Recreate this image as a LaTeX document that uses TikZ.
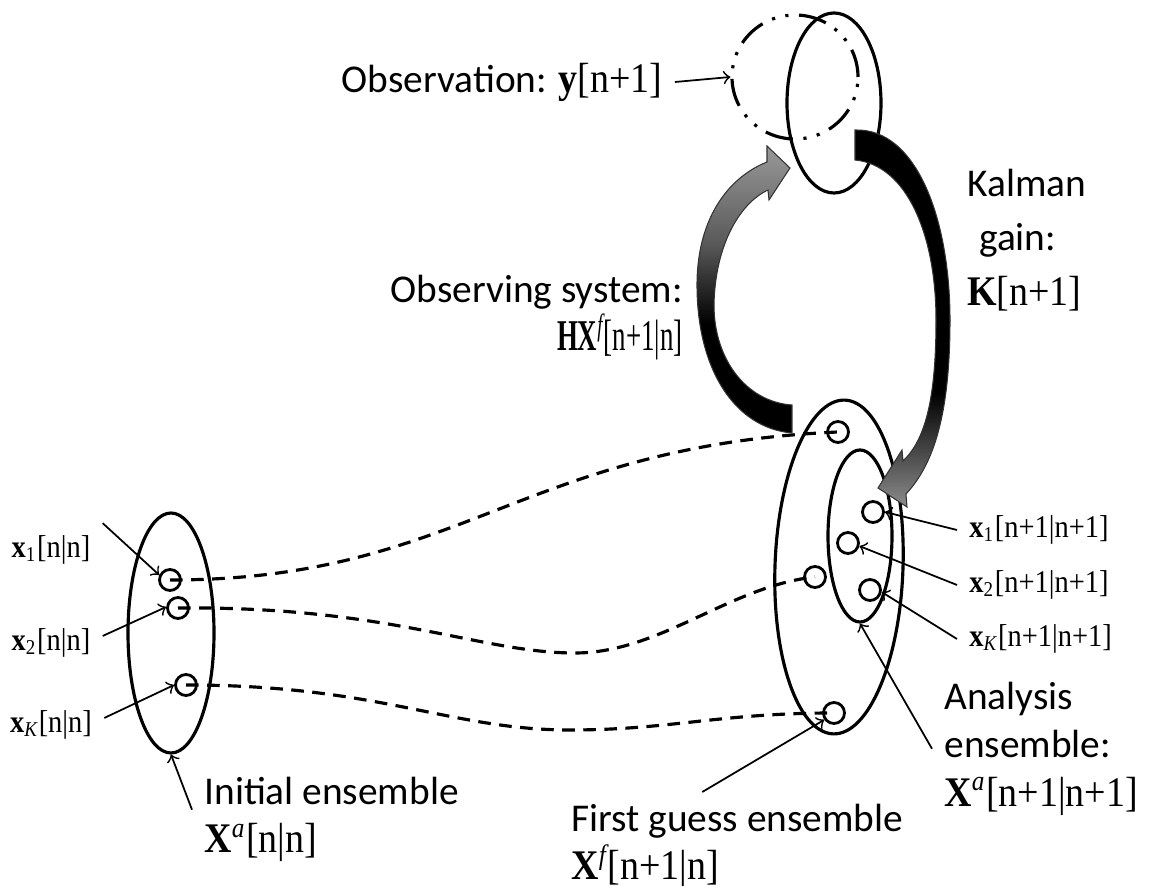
\documentclass[tikz,border=0pt]{standalone}
\usepackage{fontspec}
\usepackage{graphicx}
\setmainfont{Carlito}
\newfontfamily\tms[FakeStretch=0.9]{Liberation Serif}
\usetikzlibrary{shapes.geometric}

% fading fills for the two big curved arrows
\pgfdeclareverticalshading{obsfade}{100bp}{color(0bp)=(black); color(44bp)=(black); color(58bp)=(black!65); color(75bp)=(black!40); color(100bp)=(black!40)}
\pgfdeclareverticalshading{gainfade}{100bp}{color(0bp)=(black!40); color(25bp)=(black!45); color(40bp)=(black); color(100bp)=(black)}

\newcommand{\labbig}[1]{{\tms\fontsize{12}{13.7}\selectfont #1}}
\newcommand{\labnarrow}[1]{\scalebox{0.68}[1]{\tms\fontsize{12.5}{13.7}\selectfont #1}}
\newcommand{\labsmall}[1]{{\tms\fontsize{9}{11}\selectfont #1}}

\begin{document}
\begin{tikzpicture}[
    font=\fontsize{11.2}{13.7}\selectfont,
    ens/.style={ellipse, draw, line width=0.9pt, inner sep=0pt},
    mem/.style={circle, draw, line width=0.8pt, minimum size=0.21cm, inner sep=0pt},
    track/.style={line width=0.9pt, dash pattern=on 3.6pt off 2.4pt},
    pointer/.style={->, line width=0.5pt}
]
\useasboundingbox (0,0) rectangle (11.51,8.86);

% ensembles and observation
\node[ens, minimum width=1.26cm, minimum height=1.24cm,
      dash pattern=on 8pt off 3pt on 0.9pt off 3pt on 0.9pt off 3pt] (obsdd) at (7.95,8.09) {};
\node[ens, minimum width=0.94cm, minimum height=1.80cm] (obs) at (8.34,7.83) {};
\node[ens, minimum width=0.86cm, minimum height=2.40cm] (init) at (1.71,2.53) {};
\node[ens, minimum width=1.28cm, minimum height=3.34cm, rotate=-2] (guess) at (8.39,3.19) {};
\node[ens, minimum width=0.64cm, minimum height=1.72cm] (anal) at (8.60,3.50) {};

% members
\node[mem] (i1) at (1.70,3.06) {};
\node[mem] (i2) at (1.78,2.78) {};
\node[mem] (iK) at (1.86,2.01) {};
\node[mem] (g1) at (8.38,4.54) {};
\node[mem] (g2) at (8.15,3.09) {};
\node[mem] (gK) at (8.34,1.73) {};
\node[mem] (a1) at (8.73,3.74) {};
\node[mem] (a2) at (8.48,3.43) {};
\node[mem] (aK) at (8.70,2.96) {};

% forecast tracks
\draw[track] (i1.center) .. controls (4.6,3.06) and (5.2,4.40) .. (g1.center);
\draw[track] (i2.center) .. controls (3.9,2.80) and (4.8,2.33) .. (5.75,2.33)
                         .. controls (6.6,2.33) and (7.3,3.00) .. (g2.center);
\draw[track] (iK.center) .. controls (3.8,2.01) and (4.5,1.56) .. (5.7,1.56)
                         .. controls (6.7,1.56) and (7.2,1.73) .. (gK.center);

% labels
\node[anchor=east] (obslab) at (6.75,8.04) {Observation: \labbig{\textbf{y}[n+1]}};
\node[align=right, anchor=east] (hxlab) at (6.95,5.68)
    {Observing system:\\\labnarrow{\textbf{HX}\textsuperscript{\itshape f}[n+1|n]}};
\node[align=left, anchor=west, font=\fontsize{11.2}{15.5}\selectfont] (kglab) at (9.55,6.46)
    {Kalman\\\hspace{0.3em}gain:\\\labbig{\textbf{K}[n+1]}};
\node[align=left, anchor=north west] (analab) at (9.32,2.16)
    {Analysis\\ensemble:\\\labbig{\textbf{X}\textsuperscript{\itshape a}[n+1|n+1]}};
\node[align=left, anchor=north west] (initlab) at (1.92,1.21)
    {Initial ensemble\\\labbig{\textbf{X}\textsuperscript{\itshape a}[n|n]}};
\node[align=left, anchor=north west] (guesslab) at (5.59,0.94)
    {First guess ensemble\\\labbig{\textbf{X}\textsuperscript{\itshape f}[n+1|n]}};

\node (lx1) at (0.51,3.36) {\labsmall{\textbf{x}\textsubscript{1}[n|n]}};
\node (lx2) at (0.51,2.43) {\labsmall{\textbf{x}\textsubscript{2}[n|n]}};
\node (lxK) at (0.51,1.61) {\labsmall{\textbf{x}\textsubscript{\itshape K}[n|n]}};
\node[anchor=west] (la1) at (9.57,3.56) {\labsmall{\textbf{x}\textsubscript{1}[n+1|n+1]}};
\node[anchor=west] (la2) at (9.57,3.01) {\labsmall{\textbf{x}\textsubscript{2}[n+1|n+1]}};
\node[anchor=west] (laK) at (9.57,2.47) {\labsmall{\textbf{x}\textsubscript{\itshape K}[n+1|n+1]}};

% pointers
\draw[pointer] (obslab.east) -- (obsdd.west);
\draw[pointer] (lx1.north east) -- (i1.155);
\draw[pointer] ([yshift=2pt]lx2.east) -- (i2.175);
\draw[pointer] ([yshift=2pt]lxK.east) -- (iK.west);
\draw[pointer] ([yshift=0.1cm]initlab.west) -- (init.south);
\draw[pointer] ([xshift=-0.35cm]guesslab.north) -- (gK.215);
\draw[pointer] (la1.west) -- (a1.east);
\draw[pointer] (la2.west) -- (a2.-15);
\draw[pointer] (laK.west) -- (aK.-10);
\draw[pointer] (analab.west) -- (anal.south);

% observing system arrow (up the left side)
\shadedraw[shading=obsfade, draw=black!80, line width=0.3pt]
    (7.92,4.53) .. controls (7.35,4.58) and (6.97,5.16) .. (6.97,6.01)
    .. controls (6.97,6.66) and (7.27,7.08) .. (7.67,7.24)
    -- (7.67,7.40) -- (7.90,7.18) -- (7.69,6.86) -- (7.68,6.96)
    .. controls (7.40,6.83) and (7.15,6.41) .. (7.14,5.81)
    .. controls (7.14,5.26) and (7.47,4.84) .. (7.92,4.81) -- cycle;

% Kalman gain arrow (down the right side)
\shadedraw[shading=gainfade, draw=black!80, line width=0.3pt]
    (8.55,7.56) .. controls (9.17,7.58) and (9.50,6.66) .. (9.50,5.66)
    .. controls (9.50,4.75) and (9.35,4.23) .. (9.06,3.92)
    -- (9.07,3.79) -- (8.78,3.98) -- (9.02,4.36) -- (9.03,4.25)
    .. controls (9.25,4.46) and (9.36,4.86) .. (9.36,5.66)
    .. controls (9.36,6.51) and (9.07,7.21) .. (8.55,7.26) -- cycle;
\end{tikzpicture}
\end{document}
